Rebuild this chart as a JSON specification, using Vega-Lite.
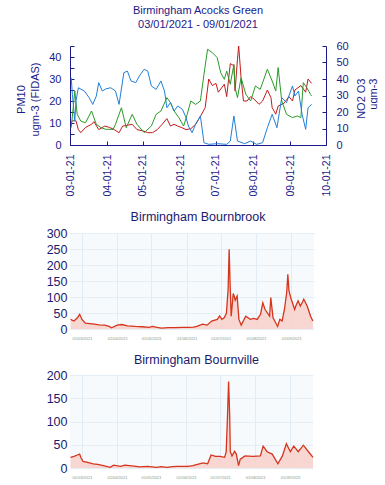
{
  "$schema": "https://vega.github.io/schema/vega-lite/v6.json",
  "padding": {"left": 11, "top": 5, "right": 0, "bottom": 0},
  "background": "white",
  "spacing": 13,
  "align": "none",
  "config": {"font": "Liberation Sans", "view": {"stroke": null}},
  "datasets": {
    "top": [
      {"d":"2021-03-02","s":"PM10","v":10},{"d":"2021-03-03","s":"PM10","v":11},{"d":"2021-03-06","s":"PM10","v":11},{"d":"2021-03-08","s":"PM10","v":7},{"d":"2021-03-10","s":"PM10","v":5.6},{"d":"2021-03-14","s":"PM10","v":8},{"d":"2021-03-19","s":"PM10","v":9.4},{"d":"2021-03-21","s":"PM10","v":10.6},{"d":"2021-03-25","s":"PM10","v":7},{"d":"2021-03-30","s":"PM10","v":8.6},{"d":"2021-04-03","s":"PM10","v":8},{"d":"2021-04-07","s":"PM10","v":7},{"d":"2021-04-11","s":"PM10","v":5.6},{"d":"2021-04-14","s":"PM10","v":8.6},{"d":"2021-04-18","s":"PM10","v":9},{"d":"2021-04-22","s":"PM10","v":9.4},{"d":"2021-04-26","s":"PM10","v":7},{"d":"2021-05-01","s":"PM10","v":6.4},{"d":"2021-05-05","s":"PM10","v":5.6},{"d":"2021-05-09","s":"PM10","v":5.6},{"d":"2021-05-13","s":"PM10","v":7},{"d":"2021-05-17","s":"PM10","v":9.4},{"d":"2021-05-21","s":"PM10","v":12},{"d":"2021-05-24","s":"PM10","v":8.6},{"d":"2021-05-27","s":"PM10","v":9.4},{"d":"2021-05-30","s":"PM10","v":8.6},{"d":"2021-06-02","s":"PM10","v":8},{"d":"2021-06-06","s":"PM10","v":7},{"d":"2021-06-10","s":"PM10","v":7.4},{"d":"2021-06-14","s":"PM10","v":9.4},{"d":"2021-06-18","s":"PM10","v":13},{"d":"2021-06-22","s":"PM10","v":17},{"d":"2021-06-25","s":"PM10","v":30},{"d":"2021-06-28","s":"PM10","v":27},{"d":"2021-07-01","s":"PM10","v":28},{"d":"2021-07-03","s":"PM10","v":24},{"d":"2021-07-08","s":"PM10","v":27.6},{"d":"2021-07-10","s":"PM10","v":22},{"d":"2021-07-13","s":"PM10","v":37},{"d":"2021-07-16","s":"PM10","v":36},{"d":"2021-07-17","s":"PM10","v":24.5},{"d":"2021-07-19","s":"PM10","v":39},{"d":"2021-07-20","s":"PM10","v":45},{"d":"2021-07-22","s":"PM10","v":30.6},{"d":"2021-07-24","s":"PM10","v":20},{"d":"2021-07-27","s":"PM10","v":20},{"d":"2021-07-30","s":"PM10","v":22},{"d":"2021-08-02","s":"PM10","v":20.8},{"d":"2021-08-06","s":"PM10","v":18.5},{"d":"2021-08-09","s":"PM10","v":20},{"d":"2021-08-13","s":"PM10","v":25},{"d":"2021-08-16","s":"PM10","v":21.5},{"d":"2021-08-17","s":"PM10","v":17},{"d":"2021-08-20","s":"PM10","v":14},{"d":"2021-08-22","s":"PM10","v":17.7},{"d":"2021-08-27","s":"PM10","v":19},{"d":"2021-08-31","s":"PM10","v":22},{"d":"2021-09-03","s":"PM10","v":20},{"d":"2021-09-05","s":"PM10","v":25},{"d":"2021-09-10","s":"PM10","v":27},{"d":"2021-09-14","s":"PM10","v":24},{"d":"2021-09-16","s":"PM10","v":30},{"d":"2021-09-19","s":"PM10","v":28},
      {"d":"2021-03-02","s":"NO2","v":10.5},{"d":"2021-03-03","s":"NO2","v":17.6},{"d":"2021-03-05","s":"NO2","v":32.7},{"d":"2021-03-07","s":"NO2","v":18.6},{"d":"2021-03-10","s":"NO2","v":14.5},{"d":"2021-03-14","s":"NO2","v":13.5},{"d":"2021-03-19","s":"NO2","v":20.6},{"d":"2021-03-23","s":"NO2","v":12.5},{"d":"2021-03-27","s":"NO2","v":10.5},{"d":"2021-03-31","s":"NO2","v":9.5},{"d":"2021-04-06","s":"NO2","v":9.5},{"d":"2021-04-08","s":"NO2","v":12.5},{"d":"2021-04-13","s":"NO2","v":22.6},{"d":"2021-04-17","s":"NO2","v":10.5},{"d":"2021-04-22","s":"NO2","v":18.6},{"d":"2021-04-26","s":"NO2","v":12.5},{"d":"2021-05-02","s":"NO2","v":7.5},{"d":"2021-05-08","s":"NO2","v":11.5},{"d":"2021-05-12","s":"NO2","v":18.6},{"d":"2021-05-16","s":"NO2","v":20.6},{"d":"2021-05-21","s":"NO2","v":28.7},{"d":"2021-05-24","s":"NO2","v":25.7},{"d":"2021-05-27","s":"NO2","v":20.6},{"d":"2021-05-31","s":"NO2","v":16.6},{"d":"2021-06-04","s":"NO2","v":11.5},{"d":"2021-06-07","s":"NO2","v":18.6},{"d":"2021-06-10","s":"NO2","v":26.7},{"d":"2021-06-14","s":"NO2","v":24.6},{"d":"2021-06-18","s":"NO2","v":26.7},{"d":"2021-06-21","s":"NO2","v":42.8},{"d":"2021-06-24","s":"NO2","v":58},{"d":"2021-06-28","s":"NO2","v":56},{"d":"2021-07-02","s":"NO2","v":53},{"d":"2021-07-05","s":"NO2","v":43.8},{"d":"2021-07-08","s":"NO2","v":39.8},{"d":"2021-07-10","s":"NO2","v":44.8},{"d":"2021-07-13","s":"NO2","v":36.8},{"d":"2021-07-16","s":"NO2","v":48.9},{"d":"2021-07-17","s":"NO2","v":34.7},{"d":"2021-07-19","s":"NO2","v":28.7},{"d":"2021-07-22","s":"NO2","v":40.8},{"d":"2021-07-26","s":"NO2","v":30.7},{"d":"2021-07-30","s":"NO2","v":26.7},{"d":"2021-08-03","s":"NO2","v":35.8},{"d":"2021-08-07","s":"NO2","v":33.7},{"d":"2021-08-13","s":"NO2","v":45.9},{"d":"2021-08-17","s":"NO2","v":38.8},{"d":"2021-08-20","s":"NO2","v":32.7},{"d":"2021-08-22","s":"NO2","v":46.9},{"d":"2021-08-25","s":"NO2","v":26.7},{"d":"2021-08-29","s":"NO2","v":18.6},{"d":"2021-09-03","s":"NO2","v":16.6},{"d":"2021-09-07","s":"NO2","v":17.6},{"d":"2021-09-10","s":"NO2","v":16.6},{"d":"2021-09-12","s":"NO2","v":37.8},{"d":"2021-09-15","s":"NO2","v":34.7},{"d":"2021-09-18","s":"NO2","v":30.7},{"d":"2021-09-19","s":"NO2","v":29.7},
      {"d":"2021-03-02","s":"O3","v":40.8},{"d":"2021-03-03","s":"O3","v":30.7},{"d":"2021-03-05","s":"O3","v":14.5},{"d":"2021-03-06","s":"O3","v":26.7},{"d":"2021-03-08","s":"O3","v":34.7},{"d":"2021-03-13","s":"O3","v":32.7},{"d":"2021-03-17","s":"O3","v":28.7},{"d":"2021-03-20","s":"O3","v":24.6},{"d":"2021-03-23","s":"O3","v":29.7},{"d":"2021-03-25","s":"O3","v":37.8},{"d":"2021-03-28","s":"O3","v":32.7},{"d":"2021-03-31","s":"O3","v":34},{"d":"2021-04-04","s":"O3","v":34.7},{"d":"2021-04-08","s":"O3","v":32.7},{"d":"2021-04-11","s":"O3","v":24.6},{"d":"2021-04-15","s":"O3","v":43.8},{"d":"2021-04-18","s":"O3","v":44.8},{"d":"2021-04-21","s":"O3","v":38.8},{"d":"2021-04-25","s":"O3","v":37.8},{"d":"2021-04-28","s":"O3","v":41.8},{"d":"2021-05-02","s":"O3","v":45.9},{"d":"2021-05-05","s":"O3","v":44.8},{"d":"2021-05-08","s":"O3","v":35.8},{"d":"2021-05-12","s":"O3","v":33.7},{"d":"2021-05-16","s":"O3","v":38.8},{"d":"2021-05-19","s":"O3","v":32.7},{"d":"2021-05-21","s":"O3","v":22.6},{"d":"2021-05-24","s":"O3","v":25.7},{"d":"2021-05-27","s":"O3","v":20.6},{"d":"2021-05-30","s":"O3","v":23.6},{"d":"2021-06-03","s":"O3","v":21.6},{"d":"2021-06-06","s":"O3","v":16.6},{"d":"2021-06-08","s":"O3","v":11.5},{"d":"2021-06-11","s":"O3","v":7.5},{"d":"2021-06-14","s":"O3","v":12.5},{"d":"2021-06-18","s":"O3","v":17.6},{"d":"2021-06-21","s":"O3","v":1.4},{"d":"2021-06-25","s":"O3","v":0.4},{"d":"2021-07-02","s":"O3","v":0.8},{"d":"2021-07-10","s":"O3","v":0.4},{"d":"2021-07-13","s":"O3","v":2.4},{"d":"2021-07-16","s":"O3","v":17.6},{"d":"2021-07-19","s":"O3","v":2.4},{"d":"2021-07-25","s":"O3","v":0.8},{"d":"2021-07-30","s":"O3","v":2.4},{"d":"2021-08-04","s":"O3","v":0.4},{"d":"2021-08-09","s":"O3","v":1.4},{"d":"2021-08-13","s":"O3","v":10.5},{"d":"2021-08-17","s":"O3","v":18.6},{"d":"2021-08-21","s":"O3","v":10.5},{"d":"2021-08-25","s":"O3","v":28.7},{"d":"2021-08-29","s":"O3","v":25.7},{"d":"2021-09-03","s":"O3","v":35.8},{"d":"2021-09-05","s":"O3","v":29.7},{"d":"2021-09-08","s":"O3","v":32.7},{"d":"2021-09-11","s":"O3","v":18.6},{"d":"2021-09-14","s":"O3","v":9.5},{"d":"2021-09-16","s":"O3","v":22.6},{"d":"2021-09-19","s":"O3","v":24.6}
    ],
    "bb": [
      {"d":"2021-02-19","v":30},{"d":"2021-02-22","v":25},{"d":"2021-02-25","v":35},{"d":"2021-02-27","v":46},{"d":"2021-03-01","v":30},{"d":"2021-03-04","v":18},{"d":"2021-03-08","v":17},{"d":"2021-03-12","v":15},{"d":"2021-03-16","v":13},{"d":"2021-03-21","v":12},{"d":"2021-03-25","v":8},{"d":"2021-03-27","v":4},{"d":"2021-04-01","v":12},{"d":"2021-04-05","v":14},{"d":"2021-04-10","v":10},{"d":"2021-04-17","v":8},{"d":"2021-04-23","v":7},{"d":"2021-04-29","v":5},{"d":"2021-05-02","v":8},{"d":"2021-05-06","v":5},{"d":"2021-05-10","v":3},{"d":"2021-05-16","v":4},{"d":"2021-05-22","v":4},{"d":"2021-05-28","v":5},{"d":"2021-06-03","v":5},{"d":"2021-06-07","v":6},{"d":"2021-06-10","v":8},{"d":"2021-06-15","v":15},{"d":"2021-06-19","v":12},{"d":"2021-06-23","v":25},{"d":"2021-06-28","v":30},{"d":"2021-06-30","v":41},{"d":"2021-07-02","v":30},{"d":"2021-07-04","v":35},{"d":"2021-07-06","v":49},{"d":"2021-07-07T12:00Z","v":124},{"d":"2021-07-08T10:00Z","v":249},{"d":"2021-07-09T07:00Z","v":135},{"d":"2021-07-10T05:00Z","v":40},{"d":"2021-07-12","v":111},{"d":"2021-07-12T19:00Z","v":103},{"d":"2021-07-13T17:00Z","v":90},{"d":"2021-07-15T10:00Z","v":103},{"d":"2021-07-17","v":30},{"d":"2021-07-19","v":12},{"d":"2021-07-23","v":40},{"d":"2021-07-27","v":30},{"d":"2021-07-30","v":33},{"d":"2021-08-02","v":30},{"d":"2021-08-05","v":46},{"d":"2021-08-07","v":82},{"d":"2021-08-09","v":61},{"d":"2021-08-11","v":50},{"d":"2021-08-13","v":40},{"d":"2021-08-14","v":98},{"d":"2021-08-16","v":35},{"d":"2021-08-20","v":8},{"d":"2021-08-22","v":30},{"d":"2021-08-24","v":25},{"d":"2021-08-26","v":61},{"d":"2021-08-28","v":114},{"d":"2021-08-29","v":171},{"d":"2021-08-30","v":119},{"d":"2021-09-01","v":93},{"d":"2021-09-04","v":61},{"d":"2021-09-05","v":72},{"d":"2021-09-07","v":88},{"d":"2021-09-09","v":72},{"d":"2021-09-11","v":85},{"d":"2021-09-12","v":93},{"d":"2021-09-15","v":72},{"d":"2021-09-18","v":40},{"d":"2021-09-20","v":25}
    ],
    "bv": [
      {"d":"2021-02-19","v":23},{"d":"2021-02-22","v":25},{"d":"2021-02-25","v":28},{"d":"2021-02-27","v":30},{"d":"2021-02-28","v":23},{"d":"2021-03-02","v":14},{"d":"2021-03-06","v":12},{"d":"2021-03-11","v":9},{"d":"2021-03-15","v":8},{"d":"2021-03-20","v":5},{"d":"2021-03-26","v":1.5},{"d":"2021-03-29","v":6},{"d":"2021-04-04","v":3.6},{"d":"2021-04-08","v":6},{"d":"2021-04-12","v":5},{"d":"2021-04-16","v":4},{"d":"2021-04-21","v":2.5},{"d":"2021-04-28","v":3.6},{"d":"2021-05-06","v":1.5},{"d":"2021-05-10","v":3},{"d":"2021-05-15","v":1.5},{"d":"2021-05-20","v":3},{"d":"2021-05-24","v":3.6},{"d":"2021-06-02","v":3.6},{"d":"2021-06-07","v":5},{"d":"2021-06-11","v":8},{"d":"2021-06-16","v":11},{"d":"2021-06-20","v":9},{"d":"2021-06-23","v":28},{"d":"2021-06-27","v":25},{"d":"2021-07-01","v":25},{"d":"2021-07-05","v":23},{"d":"2021-07-06T09:00Z","v":35},{"d":"2021-07-07T14:00Z","v":116},{"d":"2021-07-08T12:00Z","v":186},{"d":"2021-07-09T10:00Z","v":116},{"d":"2021-07-10","v":35},{"d":"2021-07-11T12:00Z","v":26},{"d":"2021-07-13T19:00Z","v":36},{"d":"2021-07-15T07:00Z","v":30},{"d":"2021-07-17T07:00Z","v":5},{"d":"2021-07-18T19:00Z","v":19},{"d":"2021-07-23","v":26},{"d":"2021-07-30","v":25},{"d":"2021-08-05T12:00Z","v":26},{"d":"2021-08-08","v":47},{"d":"2021-08-11T12:00Z","v":35},{"d":"2021-08-16","v":30},{"d":"2021-08-21","v":9},{"d":"2021-08-25","v":26},{"d":"2021-08-28T12:00Z","v":52},{"d":"2021-09-01","v":35},{"d":"2021-09-04","v":47},{"d":"2021-09-08","v":35},{"d":"2021-09-12T12:00Z","v":49},{"d":"2021-09-17","v":35},{"d":"2021-09-21","v":23}
    ]
  },
  "vconcat": [
    {
      "width": 256,
      "height": 99,
      "title": {"text": ["Birmingham Acocks Green", "03/01/2021 - 09/01/2021"], "fontSize": 11, "fontWeight": "normal", "color": "#1a1a8a", "lineHeight": 14, "offset": 10, "anchor": "middle", "frame": "group"},
      "data": {"name": "top"},
      "encoding": {
        "x": {
          "field": "d", "type": "temporal",
          "scale": {"type": "utc", "domain": [{"year": 2021, "month": 3, "date": 1, "utc": true}, {"year": 2021, "month": 10, "date": 1, "utc": true}]},
          "axis": {
            "title": null, "format": "%m-%d-%y", "labelAngle": 270, "labelFontSize": 10.5, "labelColor": "#1a1a8a",
            "domainColor": "#1a1a8a", "tickColor": "#1a1a8a", "tickSize": -4, "labelPadding": 13, "grid": false,
            "values": [
              {"year": 2021, "month": 3, "date": 1, "utc": true}, {"year": 2021, "month": 4, "date": 1, "utc": true},
              {"year": 2021, "month": 5, "date": 1, "utc": true}, {"year": 2021, "month": 6, "date": 1, "utc": true},
              {"year": 2021, "month": 7, "date": 1, "utc": true}, {"year": 2021, "month": 8, "date": 1, "utc": true},
              {"year": 2021, "month": 9, "date": 1, "utc": true}, {"year": 2021, "month": 10, "date": 1, "utc": true}
            ]
          }
        }
      },
      "layer": [
        {
          "transform": [{"filter": "datum.s == 'PM10'"}],
          "mark": {"type": "line", "color": "#c41a1a", "strokeWidth": 1},
          "encoding": {
            "y": {
              "field": "v", "type": "quantitative", "scale": {"domain": [0, 45], "nice": false},
              "axis": {
                "title": ["PM10", "ugm-3 (FIDAS)"], "titleFontSize": 11, "titleFontWeight": "normal", "titleColor": "#1a1a8a",
                "titleX": -55, "titleY": 53, "titleAngle": 270, "titleBaseline": "top", "titleAlign": "center", "titleLineHeight": 14,
                "labelFontSize": 11, "labelColor": "#1a1a8a", "domainColor": "#1a1a8a", "tickColor": "#1a1a8a",
                "tickSize": -4, "labelPadding": 13, "grid": false, "values": [0, 5, 10, 15, 20, 25, 30, 35, 40, 45]
              }
            }
          }
        },
        {
          "transform": [{"filter": "datum.s != 'PM10'"}],
          "mark": {"type": "line", "strokeWidth": 1},
          "encoding": {
            "y": {
              "field": "v", "type": "quantitative", "scale": {"domain": [0, 60], "nice": false},
              "axis": {
                "orient": "right",
                "title": ["NO2 O3", "ugm-3"], "titleFontSize": 11, "titleFontWeight": "normal", "titleColor": "#1a1a8a",
                "titleX": 29, "titleY": 32, "titleAngle": 270, "titleBaseline": "top", "titleAlign": "right", "titleLineHeight": 12,
                "labelFontSize": 11, "labelColor": "#1a1a8a", "domainColor": "#1a1a8a", "tickColor": "#1a1a8a",
                "tickSize": -4, "labelPadding": 14, "grid": false, "values": [0, 10, 20, 30, 40, 50, 60]
              }
            },
            "color": {"field": "s", "type": "nominal", "scale": {"domain": ["NO2", "O3"], "range": ["#2a9a2a", "#2080d8"]}, "legend": null}
          }
        }
      ],
      "resolve": {"scale": {"y": "independent"}}
    },
    {
      "width": 244,
      "height": 96,
      "view": {"fill": "#f6fafd", "stroke": null},
      "title": {"text": "Birmingham Bournbrook", "fontSize": 12.5, "fontWeight": "normal", "color": "#1a1a6e", "offset": 4, "anchor": "middle", "frame": "group", "dx": 6},
      "data": {"name": "bb"},
      "encoding": {
        "x": {
          "field": "d", "type": "temporal",
          "scale": {"type": "utc", "domain": [{"year": 2021, "month": 2, "date": 18, "hours": 12, "utc": true}, {"year": 2021, "month": 9, "date": 21, "utc": true}]},
          "axis": {
            "title": null, "format": "%d/%m/%Y", "labelFontSize": 4, "labelColor": "#7f9a8a", "labelPadding": 7,
            "domain": false, "ticks": false, "grid": true, "gridColor": "#e2ecf5",
            "values": [
              {"year": 2021, "month": 3, "date": 1, "utc": true}, {"year": 2021, "month": 4, "date": 1, "utc": true},
              {"year": 2021, "month": 5, "date": 1, "utc": true}, {"year": 2021, "month": 6, "date": 1, "utc": true},
              {"year": 2021, "month": 7, "date": 1, "utc": true}, {"year": 2021, "month": 8, "date": 1, "utc": true},
              {"year": 2021, "month": 9, "date": 1, "utc": true}
            ]
          }
        },
        "y": {
          "field": "v", "type": "quantitative", "scale": {"domain": [0, 300], "nice": false},
          "axis": {
            "title": null, "values": [0, 50, 100, 150, 200, 250, 300], "labelFontSize": 12.5, "labelColor": "#1a1a6e",
            "domain": false, "ticks": false, "grid": true, "gridColor": "#e6eef5", "labelPadding": 3, "minExtent": 57
          }
        }
      },
      "layer": [
        {"mark": {"type": "area", "color": "#f8d2cc", "opacity": 0.9}},
        {"mark": {"type": "line", "color": "#d4351c", "strokeWidth": 1.3}}
      ]
    },
    {
      "width": 243,
      "height": 93,
      "view": {"fill": "#f6fafd", "stroke": null},
      "title": {"text": "Birmingham Bournville", "fontSize": 12.5, "fontWeight": "normal", "color": "#1a1a6e", "offset": 3, "anchor": "middle", "frame": "group", "dx": 5},
      "data": {"name": "bv"},
      "encoding": {
        "x": {
          "field": "d", "type": "temporal",
          "scale": {"type": "utc", "domain": [{"year": 2021, "month": 2, "date": 18, "hours": 12, "utc": true}, {"year": 2021, "month": 9, "date": 21, "utc": true}]},
          "axis": {
            "title": null, "format": "%d/%m/%Y", "labelFontSize": 4, "labelColor": "#7f9a8a", "labelPadding": 7,
            "domain": false, "ticks": false, "grid": true, "gridColor": "#e2ecf5",
            "values": [
              {"year": 2021, "month": 3, "date": 1, "utc": true}, {"year": 2021, "month": 4, "date": 1, "utc": true},
              {"year": 2021, "month": 5, "date": 1, "utc": true}, {"year": 2021, "month": 6, "date": 1, "utc": true},
              {"year": 2021, "month": 7, "date": 1, "utc": true}, {"year": 2021, "month": 8, "date": 1, "utc": true},
              {"year": 2021, "month": 9, "date": 1, "utc": true}
            ]
          }
        },
        "y": {
          "field": "v", "type": "quantitative", "scale": {"domain": [0, 200], "nice": false},
          "axis": {
            "title": null, "values": [0, 50, 100, 150, 200], "labelFontSize": 12.5, "labelColor": "#1a1a6e",
            "domain": false, "ticks": false, "grid": true, "gridColor": "#e6eef5", "labelPadding": 3, "minExtent": 59
          }
        }
      },
      "layer": [
        {"mark": {"type": "area", "color": "#f8d2cc", "opacity": 0.9}},
        {"mark": {"type": "line", "color": "#d4351c", "strokeWidth": 1.3}}
      ]
    }
  ]
}
